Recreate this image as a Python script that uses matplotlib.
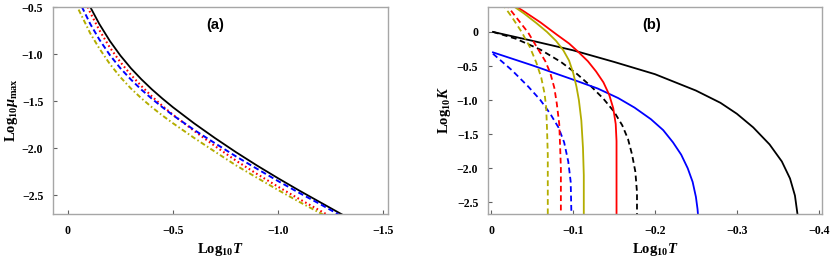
import numpy as np
import matplotlib
matplotlib.use("Agg")
import matplotlib.pyplot as plt

# ------------------------------------------------------------
# data
# ------------------------------------------------------------

# panel (a): Log10 mu_max against Log10 T
a_x = [0.0, -0.05, -0.107, -0.15, -0.2, -0.25, -0.3, -0.35, -0.4, -0.45, -0.5,
       -0.6, -0.7, -0.8, -0.9, -1.0, -1.1, -1.2, -1.3, -1.35]
a_black = [0.05, -0.22, -0.50, -0.68, -0.86, -1.015, -1.15, -1.268, -1.375, -1.473,
           -1.565, -1.735, -1.893, -2.043, -2.185, -2.32, -2.45, -2.575, -2.70, -2.76]
a_red = [0.0, -0.28, -0.56, -0.745, -0.93, -1.085, -1.22, -1.34, -1.45, -1.551,
         -1.645, -1.815, -1.978, -2.133, -2.275, -2.41, -2.54, -2.665, -2.79, -2.85]
a_blue = [-0.15, -0.42, -0.68, -0.845, -1.01, -1.15, -1.27, -1.378, -1.475, -1.565,
          -1.65, -1.805, -1.948, -2.088, -2.22, -2.35, -2.475, -2.595, -2.72, -2.78]
a_olive = [-0.25, -0.52, -0.78, -0.94, -1.105, -1.245, -1.365, -1.47, -1.565, -1.653,
           -1.735, -1.89, -2.038, -2.183, -2.315, -2.445, -2.57, -2.69, -2.81, -2.87]

# panel (b): Log10 K against Log10 T
b_black_x = [-0.002, -0.05, -0.10, -0.15, -0.20, -0.25, -0.28, -0.30, -0.32,
             -0.34, -0.355, -0.365, -0.371, -0.375]
b_black_y = [0.0, -0.13, -0.27, -0.44, -0.62, -0.86, -1.04, -1.20, -1.40,
             -1.65, -1.90, -2.15, -2.40, -2.75]
b_black_d_x = [-0.002, -0.03, -0.06, -0.085, -0.105, -0.122, -0.137, -0.150,
               -0.160, -0.167, -0.172, -0.176, -0.178, -0.178]
b_black_d_y = [0.0, -0.10, -0.26, -0.44, -0.62, -0.80, -0.98, -1.17,
               -1.37, -1.57, -1.80, -2.05, -2.35, -2.75]
b_blue_x = [-0.002, -0.05, -0.10, -0.13, -0.155, -0.175, -0.195, -0.21, -0.222,
            -0.232, -0.240, -0.246, -0.250, -0.252, -0.253]
b_blue_y = [-0.30, -0.49, -0.70, -0.83, -0.97, -1.11, -1.28, -1.44, -1.62,
            -1.80, -2.00, -2.20, -2.42, -2.60, -2.75]
b_blue_d_x = [-0.002, -0.025, -0.045, -0.060, -0.072, -0.082, -0.089, -0.094,
              -0.097, -0.098]
b_blue_d_y = [-0.32, -0.56, -0.80, -1.00, -1.20, -1.40, -1.62, -1.90,
              -2.20, -2.75]
b_red_x = [-0.024, -0.04, -0.06, -0.08, -0.095, -0.106, -0.118, -0.128, -0.137,
           -0.144, -0.149, -0.152, -0.153, -0.153]
b_red_y = [0.42, 0.30, 0.14, -0.04, -0.17, -0.29, -0.43, -0.58, -0.74,
           -0.92, -1.12, -1.35, -1.60, -2.75]
b_red_d_x = [-0.017, -0.03, -0.045, -0.057, -0.066, -0.072, -0.077, -0.080,
             -0.083, -0.084, -0.085, -0.085]
b_red_d_y = [0.42, 0.22, -0.01, -0.25, -0.43, -0.60, -0.82, -1.05,
             -1.35, -1.65, -2.00, -2.75]
b_olive_x = [-0.022, -0.04, -0.055, -0.068, -0.079, -0.088, -0.095, -0.100,
             -0.104, -0.107, -0.110, -0.112, -0.113, -0.113]
b_olive_y = [0.42, 0.27, 0.13, 0.0, -0.13, -0.27, -0.42, -0.60,
             -0.80, -1.00, -1.30, -1.70, -2.10, -2.75]
b_olive_d_x = [-0.013, -0.025, -0.037, -0.047, -0.055, -0.061, -0.065, -0.067,
               -0.068, -0.069, -0.069]
b_olive_d_y = [0.42, 0.22, 0.0, -0.22, -0.45, -0.67, -0.90, -1.10,
               -1.40, -1.80, -2.75]

# ticks
a_xticks = [0, -0.5, -1.0, -1.5]
a_xticklabels = ["0", "\u22120.5", "\u22121.0", "\u22121.5"]
a_yticks = [-0.5, -1.0, -1.5, -2.0, -2.5]
a_yticklabels = ["\u22120.5", "\u22121.0", "\u22121.5", "\u22122.0", "\u22122.5"]
b_xticks = [0, -0.1, -0.2, -0.3, -0.4]
b_xticklabels = ["0", "\u22120.1", "\u22120.2", "\u22120.3", "\u22120.4"]
b_yticks = [0, -0.5, -1.0, -1.5, -2.0, -2.5]
b_yticklabels = ["0", "\u22120.5", "\u22121.0", "\u22121.5", "\u22122.0", "\u22122.5"]

# ------------------------------------------------------------
# style
# ------------------------------------------------------------

plt.rcParams["mathtext.fontset"] = "custom"
plt.rcParams["mathtext.rm"] = "Liberation Serif:bold"
plt.rcParams["mathtext.bf"] = "Liberation Serif:bold"
plt.rcParams["mathtext.it"] = "Liberation Serif:italic:bold"

RED = "#ff0000"
BLUE = "#0000ff"
OLIVE = "#b3ad00"
FRAME = "#a6a6a6"
tick_font = dict(family="Liberation Serif", weight="bold", size=8.5)

fig = plt.figure(figsize=(8.3, 2.6), dpi=100)
ax_a = fig.add_axes([0.0639, 0.177, 0.4036, 0.796])
ax_b = fig.add_axes([0.588, 0.177, 0.402, 0.796])


def style_axes(ax, xticks, xlabels, yticks, ylabels):
    for s in ax.spines.values():
        s.set_color(FRAME)
        s.set_linewidth(1.0)
    ax.set_xticks(xticks)
    ax.set_xticklabels(xlabels, fontdict=tick_font)
    ax.set_yticks(yticks)
    ax.set_yticklabels(ylabels, fontdict=tick_font)
    ax.tick_params(direction="in", length=3, width=0.8, color="#606060")
    ax.tick_params(axis="x", pad=8)
    ax.tick_params(axis="y", pad=7)


# ------------------------------------------------------------
# panel (a)
# ------------------------------------------------------------

ax_a.plot(a_x, a_black, color="black", lw=1.3)
ax_a.plot(a_x, a_red, color=RED, lw=1.5, dashes=(0.8, 1.3))
ax_a.plot(a_x, a_blue, color=BLUE, lw=1.4, dashes=(2.8, 1.6))
ax_a.plot(a_x, a_olive, color=OLIVE, lw=1.4, dashes=(2.5, 1.3, 0.8, 1.3))
ax_a.set_xlim(0.07, -1.523)
ax_a.set_ylim(-2.70, -0.5)
style_axes(ax_a, a_xticks, a_xticklabels, a_yticks, a_yticklabels)
ax_a.set_xlabel(r"$\mathrm{Log}_{10}T$", fontsize=10.5)
ax_a.set_ylabel(r"$\mathrm{Log}_{10}\mu_{\mathrm{max}}$", fontsize=10.5)
ax_a.xaxis.set_label_coords(0.5, -0.13)
ax_a.yaxis.set_label_coords(-0.098, 0.5)
ax_a.text(0.484, 0.913, "(a)", transform=ax_a.transAxes, ha="center", va="center",
          family="Liberation Sans", weight="bold", fontsize=10.5)

# ------------------------------------------------------------
# panel (b)
# ------------------------------------------------------------

dash = (3.2, 2.0)
ax_b.plot(b_black_x, b_black_y, color="black", lw=1.3)
ax_b.plot(b_black_d_x, b_black_d_y, color="black", lw=1.3, dashes=dash)
ax_b.plot(b_blue_x, b_blue_y, color=BLUE, lw=1.3)
ax_b.plot(b_blue_d_x, b_blue_d_y, color=BLUE, lw=1.3, dashes=dash)
ax_b.plot(b_red_x, b_red_y, color=RED, lw=1.3)
ax_b.plot(b_red_d_x, b_red_d_y, color=RED, lw=1.3, dashes=dash)
ax_b.plot(b_olive_x, b_olive_y, color=OLIVE, lw=1.3)
ax_b.plot(b_olive_d_x, b_olive_d_y, color=OLIVE, lw=1.3, dashes=dash)
ax_b.set_xlim(0.004, -0.4037)
ax_b.set_ylim(-2.67, 0.365)
style_axes(ax_b, b_xticks, b_xticklabels, b_yticks, b_yticklabels)
ax_b.set_xlabel(r"$\mathrm{Log}_{10}T$", fontsize=10.5)
ax_b.set_ylabel(r"$\mathrm{Log}_{10}K$", fontsize=10.5)
ax_b.xaxis.set_label_coords(0.5, -0.13)
ax_b.yaxis.set_label_coords(-0.105, 0.5)
ax_b.text(0.491, 0.913, "(b)", transform=ax_b.transAxes, ha="center", va="center",
          family="Liberation Sans", weight="bold", fontsize=10.5)

fig.savefig("out.png", dpi=100)
